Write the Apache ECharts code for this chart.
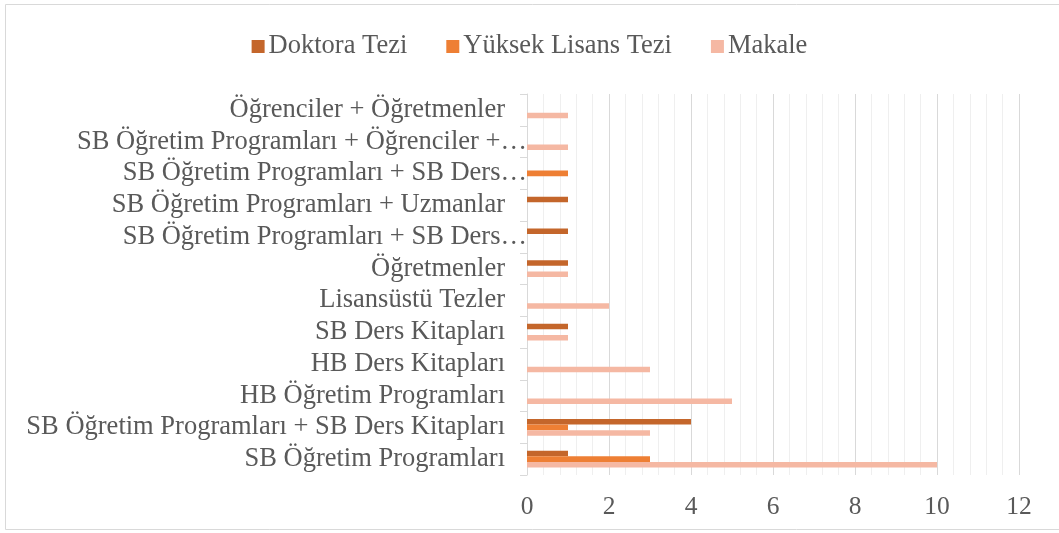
<!DOCTYPE html>
<html><head><meta charset="utf-8">
<script src="https://cdn.jsdelivr.net/npm/echarts@6/dist/echarts.min.js"></script>
<style>html,body{margin:0;padding:0;background:#fff}#c{width:1059px;height:533px}</style>
</head><body><div id="c"></div>
<script>
const categories = [
  "SB Öğretim Programları",
  "SB Öğretim Programları + SB Ders Kitapları",
  "HB Öğretim Programları",
  "HB Ders Kitapları",
  "SB Ders Kitapları",
  "Lisansüstü Tezler",
  "Öğretmenler",
  "SB Öğretim Programları + SB Ders…",
  "SB Öğretim Programları + Uzmanlar",
  "SB Öğretim Programları + SB Ders…",
  "SB Öğretim Programları + Öğrenciler +…",
  "Öğrenciler + Öğretmenler"
];
const doktora = [1, 4, 0, 0, 1, 0, 1, 1, 1, 0, 0, 0];
const yuksekLisans = [3, 1, 0, 0, 0, 0, 0, 0, 0, 1, 0, 0];
const makale = [10, 3, 5, 3, 1, 2, 1, 0, 0, 0, 1, 1];
const xTicks = [0, 2, 4, 6, 8, 10, 12];

const font = "'Liberation Serif', 'DejaVu Serif', serif";
const chart = echarts.init(document.getElementById('c'));
const mk = (name, data, color) => ({
  name, type: 'bar', data: data.map(v => v === 0 ? null : v),
  itemStyle: { color }, barGap: '0%', barCategoryGap: '48%'
});
const lab = { fontFamily: font, fontSize: 26.5, color: '#595959' };
chart.setOption({
  animation: false,
  graphic: [{ type: 'rect', shape: { x: 5.5, y: 4.5, width: 1100, height: 525 },
    style: { fill: 'none', stroke: '#d9d9d9', lineWidth: 1 } }],
  legend: {
    data: ['Doktora Tezi', 'Yüksek Lisans Tezi', 'Makale'],
    top: 28, left: 'center', itemWidth: 13, itemHeight: 13, itemGap: 39,
    icon: 'rect',
    textStyle: { fontFamily: font, fontSize: 26.5, color: '#595959', padding: [0, 0, 0, -1] }
  },
  grid: { left: 527, right: 40, top: 94, bottom: 58, containLabel: false },
  xAxis: {
    type: 'value', min: 0, max: 12, interval: 2,
    axisLine: { show: false }, axisTick: { show: false },
    axisLabel: { fontFamily: font, fontSize: 25.5, color: '#595959', margin: 19,
      formatter: v => xTicks.includes(v) ? String(v) : '' },
    splitLine: { lineStyle: { color: '#d9d9d9', width: 1 } },
    minorTick: { show: false, splitNumber: 5 },
    minorSplitLine: { show: true, lineStyle: { color: '#efefef', width: 1 } }
  },
  yAxis: {
    type: 'category', data: categories,
    axisLine: { lineStyle: { color: '#d9d9d9' } },
    axisTick: { show: true, length: 7, lineStyle: { color: '#d9d9d9' } },
    axisLabel: Object.assign({}, lab, { margin: 0, interval: 0,
      formatter: v => v.endsWith('…') ? '{t|' + v + '}' : '{n|' + v + '}',
      rich: { n: Object.assign({}, lab, { padding: [0, 22, 0, 0] }), t: Object.assign({}, lab) } })
  },
  series: [
    mk('Doktora Tezi', doktora, '#C4662B'),
    mk('Yüksek Lisans Tezi', yuksekLisans, '#EE7F34'),
    mk('Makale', makale, '#F5B8A3')
  ]
});
</script></body></html>
